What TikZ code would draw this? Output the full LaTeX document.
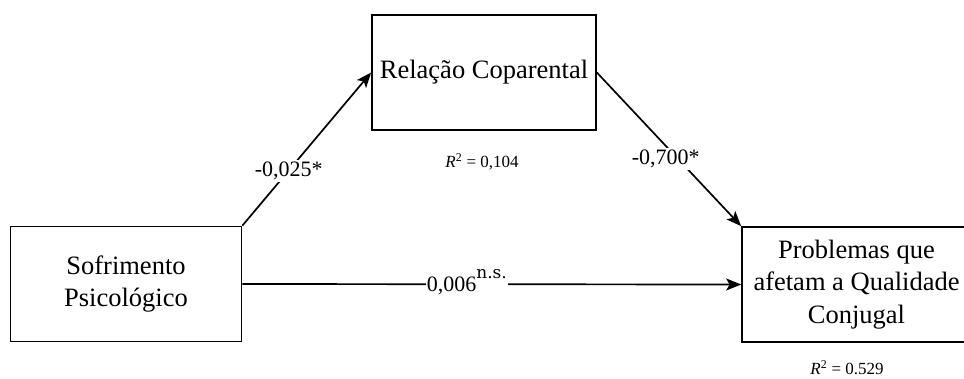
\documentclass[tikz,border=0pt]{standalone}
\usepackage{fontspec}
\setmainfont{Liberation Serif}
\newfontfamily\nsfont{DejaVu Serif}
\usetikzlibrary{arrows.meta}
\begin{document}
\begin{tikzpicture}[x=1pt,y=-1pt,
  box/.style={draw, line width=1.7pt, minimum height=115pt, inner sep=0pt,
    align=center, font=\fontsize{26.5}{32.8}\selectfont},
  arr/.style={line width=1.7pt, -{Stealth[length=15pt,width=12pt,inset=3.5pt]}},
  coef/.style={fill=white, inner sep=2pt, font=\fontsize{22}{26}\selectfont},
  rsq/.style={inner sep=0pt, font=\fontsize{17}{20}\selectfont}]
\useasboundingbox (0,0) rectangle (964,378);
\clip (0,0) rectangle (964,378);
\node[box, minimum width=224pt] (rel) at (484,72.5) {Relação Coparental};
\node[box, minimum width=231pt] (soff) at (126,284) {Sofrimento\\Psicológico};
\node[box, minimum width=229pt] (prob) at (856.5,284.5) {Problemas que\\afetam a Qualidade\\Conjugal};
\draw[arr] (soff.north east) -- node[coef, pos=0.36] (c1) {-0,025*} (rel.west);
\draw[arr] (rel.east) -- node[coef, pos=0.56, xshift=-12pt] (c2) {-0,700*} (prob.north west);
\draw[arr] (soff.east) -- node[coef, pos=0.45, inner xsep=1pt, yshift=2.5pt] (c3) {0,006\raisebox{13pt}{\nsfont\fontsize{17}{20}\selectfont n.s.}} (prob.west);
\node[rsq] (r1) at (482,162) {\textit{R}\textsuperscript{2} = 0,104};
\node[rsq] (r2) at (847,368) {\textit{R}\textsuperscript{2} = 0.529};
\end{tikzpicture}
\end{document}
